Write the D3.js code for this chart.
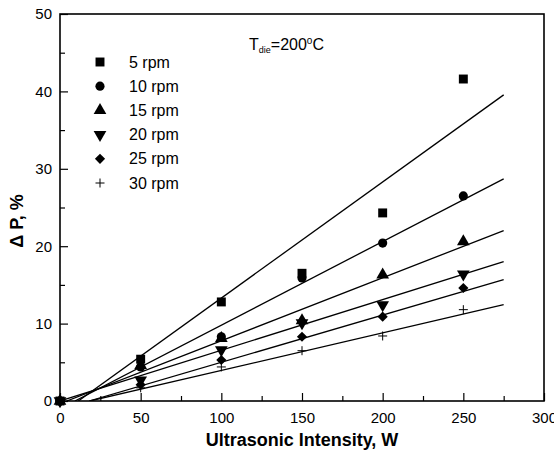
<!DOCTYPE html>
<html>
<head>
<meta charset="utf-8">
<script src="https://cdn.jsdelivr.net/npm/d3@7"></script>
<style>
html,body{margin:0;padding:0;background:#fff;}
svg{display:block;font-family:Arial,"Liberation Sans",sans-serif;}
</style>
</head>
<body>
<svg id="chart" width="554" height="452"></svg>
<script>
// ---- data ----
const intensity = [0, 50, 100, 150, 200, 250];
const seriesNames = ["5 rpm", "10 rpm", "15 rpm", "20 rpm", "25 rpm", "30 rpm"];
const rpm5  = [0, 5.4, 12.8, 16.5, 24.3, 41.6];
const rpm10 = [0, 4.4, 8.3, 15.9, 20.4, 26.5];
const rpm15 = [0, 4.6, 8.1, 10.4, 16.3, 20.6];
const rpm20 = [0, 2.7, 6.6, 10.1, 12.4, 16.4];
const rpm25 = [0, 2.1, 5.3, 8.3, 10.9, 14.6];
const rpm30 = [0, 1.7, 4.4, 6.5, 8.4, 11.8];
const fitSlope     = [0.150, 0.108, 0.0813, 0.0655, 0.061, 0.0485];
const fitIntercept = [-1.7, -1.0, -0.34, 0.0, -1.1, -0.9];
const fitRange = [0, 275];
const xTicks = [0, 50, 100, 150, 200, 250, 300];
const xMinor = [25, 75, 125, 175, 225, 275];
const yTicks = [0, 10, 20, 30, 40, 50];
const yMinor = [5, 15, 25, 35, 45];

const allSeries = [rpm5, rpm10, rpm15, rpm20, rpm25, rpm30];
const symbols = ["square", "circle", "up", "down", "diamond", "plus"];

const svg = d3.select("#chart");
const L = 60, R = 544, T = 14, B = 401;
const x = d3.scaleLinear().domain([0, 300]).range([L, R]);
const y = d3.scaleLinear().domain([0, 50]).range([B, T]);

// clip
svg.append("defs").append("clipPath").attr("id", "clip")
  .append("rect").attr("x", L).attr("y", T).attr("width", R - L).attr("height", B - T);

// axes
const xAxis = svg.append("g").attr("transform", `translate(0,${B})`)
  .call(d3.axisBottom(x).tickValues(xTicks).tickFormat(d3.format("d")).tickSizeInner(-8).tickSizeOuter(0).tickPadding(11));
const xAxisMinor = svg.append("g").attr("transform", `translate(0,${B})`)
  .call(d3.axisBottom(x).tickValues(xMinor).tickFormat("").tickSizeInner(-5).tickSizeOuter(0));
const yAxis = svg.append("g").attr("transform", `translate(${L},0)`)
  .call(d3.axisLeft(y).tickValues(yTicks).tickFormat(d3.format("d")).tickSizeInner(-8).tickSizeOuter(0).tickPadding(8));
const yAxisMinor = svg.append("g").attr("transform", `translate(${L},0)`)
  .call(d3.axisLeft(y).tickValues(yMinor).tickFormat("").tickSizeInner(-5).tickSizeOuter(0));
[xAxis, xAxisMinor, yAxis, yAxisMinor].forEach(g => {
  g.select(".domain").remove();
  g.selectAll("line").attr("stroke", "#000").attr("stroke-width", 1.2);
  g.selectAll("text").attr("font-size", 15).attr("fill", "#000")
    .attr("font-family", 'Arial,"Liberation Sans",sans-serif');
});

// frame
svg.append("rect").attr("x", L).attr("y", T).attr("width", R - L).attr("height", B - T)
  .attr("fill", "none").attr("stroke", "#000").attr("stroke-width", 1.6);

// fit lines
const plot = svg.append("g").attr("clip-path", "url(#clip)");
fitSlope.forEach((m, i) => {
  const b = fitIntercept[i];
  const x0 = b < 0 ? -b / m : fitRange[0];
  plot.append("line")
    .attr("x1", x(x0)).attr("y1", y(m * x0 + b))
    .attr("x2", x(fitRange[1])).attr("y2", y(m * fitRange[1] + b))
    .attr("stroke", "#000").attr("stroke-width", 1.3);
});

function drawSymbol(g, type, cx, cy) {
  if (type === "plus") {
    g.append("path").attr("d", `M${cx - 4.5},${cy}H${cx + 4.5}M${cx},${cy - 4.5}V${cy + 4.5}`)
      .attr("stroke", "#000").attr("stroke-width", 1).attr("fill", "none");
    return;
  }
  let sym, size, rot = 0;
  if (type === "square") { sym = d3.symbolSquare; size = 80; }
  else if (type === "circle") { sym = d3.symbolCircle; size = 66; }
  else if (type === "up") { sym = d3.symbolTriangle; size = 70; }
  else if (type === "down") { sym = d3.symbolTriangle; size = 70; rot = 180; }
  else if (type === "diamond") { sym = d3.symbolSquare; size = 52; rot = 45; }
  g.append("path").attr("d", d3.symbol().type(sym).size(size)())
    .attr("transform", `translate(${cx},${cy}) rotate(${rot})`)
    .attr("fill", "#000");
}

// markers
const markG = svg.append("g");
allSeries.forEach((vals, i) => {
  vals.forEach((v, j) => drawSymbol(markG, symbols[i], x(intensity[j]), y(v)));
});

// legend
const leg = svg.append("g");
seriesNames.forEach((name, i) => {
  const cy = 62 + i * 24.2;
  drawSymbol(leg, symbols[i], 100, cy);
  leg.append("text").attr("x", 129).attr("y", cy + 5.5).attr("font-size", 16).text(name);
});

// annotation
const ann = svg.append("text").attr("x", 249).attr("y", 50).attr("font-size", 16);
ann.append("tspan").text("T");
ann.append("tspan").attr("font-size", 9).attr("dy", 3).text("die");
ann.append("tspan").attr("dy", -3).text("=200");
ann.append("tspan").attr("font-size", 10).attr("dy", -6).text("o");
ann.append("tspan").attr("dy", 6).text("C");

// axis titles
svg.append("text").attr("x", 302).attr("y", 446).attr("text-anchor", "middle")
  .attr("font-size", 18).attr("font-weight", "bold").text("Ultrasonic Intensity, W");
svg.append("text").attr("transform", "translate(23,221) rotate(-90)").attr("text-anchor", "middle")
  .attr("font-size", 18).attr("font-weight", "bold").text("Δ P, %");
</script>
</body>
</html>
